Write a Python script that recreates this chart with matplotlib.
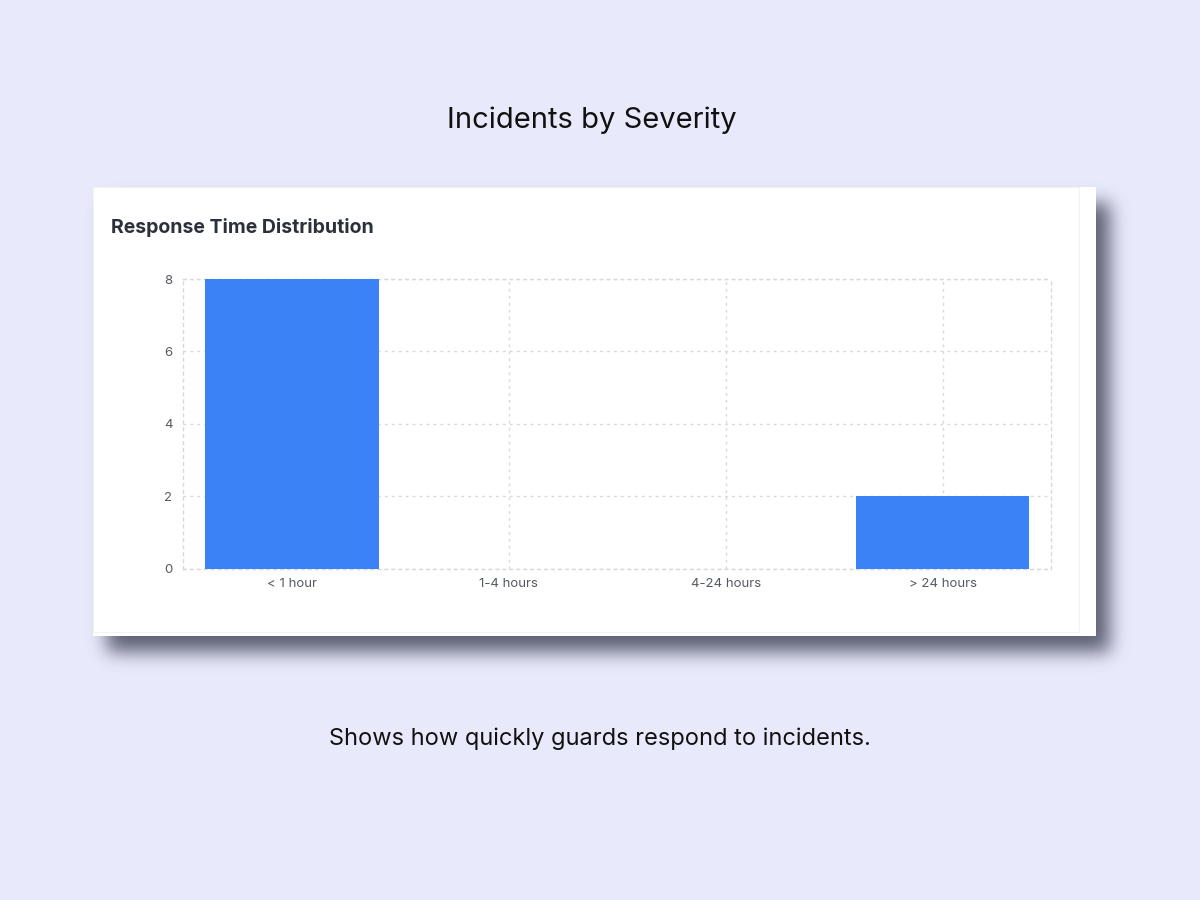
import numpy as np
import matplotlib.pyplot as plt
from matplotlib.patches import Rectangle

categories = ["< 1 hour", "1-4 hours", "4-24 hours", "> 24 hours"]
counts = [8, 0, 0, 2]
y_ticks = [0, 2, 4, 6, 8]

page_bg = "#e8eafc"
bar_color = "#3b82f6"
grid_color = "#d9d9dd"

plt.rcParams["font.family"] = ["Inter", "DejaVu Sans"]

W, H = 1200, 900
fig = plt.figure(figsize=(12, 9), dpi=100)
fig.patch.set_facecolor(page_bg)

# card box in pixels (left, top, right, bottom), top-down coordinates
cl, ct, cr, cb = 93, 187, 1096, 636


def blur_1d(img, sigma, axis):
    r = int(3 * sigma)
    k = np.exp(-0.5 * (np.arange(-r, r + 1) / sigma) ** 2)
    k /= k.sum()
    return np.apply_along_axis(lambda v: np.convolve(v, k, mode="same"), axis, img)


# soft drop shadow under the card
mask = np.zeros((H, W))
mask[ct + 16:cb + 16, cl + 14:cr + 14] = 1.0
mask = blur_1d(blur_1d(mask, 9, 0), 9, 1)
shadow = np.zeros((H, W, 4))
shadow[..., :3] = np.array([0x3c, 0x3f, 0x52]) / 255
shadow[..., 3] = mask * 0.8
fig.figimage(shadow, xo=0, yo=0, origin="upper", zorder=0)

# the white card
fig.patches.append(Rectangle((cl / W, 1 - cb / H), (cr - cl) / W, (cb - ct) / H,
                             transform=fig.transFigure, facecolor="white",
                             edgecolor="none", zorder=1))
fig.patches.append(Rectangle((cl / W, 1 - (cb - 4) / H), (cr - cl - 17) / W, (cb - ct - 4) / H,
                             transform=fig.transFigure, facecolor="none",
                             edgecolor="#f2f2f4", linewidth=0.8, zorder=1))

fig.text(0.493, 0.866, "Incidents by Severity", ha="center", va="center",
         fontsize=21, color="#111111")
fig.text(0.5, 0.179, "Shows how quickly guards respond to incidents.", ha="center",
         va="center", fontsize=17, color="#111111")
fig.text(0.0925, 0.747, "Response Time Distribution", ha="left", va="center",
         fontsize=14, fontweight="bold", color="#2b303b")

ax = fig.add_axes([0.1529, 0.3678, 0.7229, 0.3222])
ax.set_facecolor("white")
ax.set_zorder(2)
x = range(len(categories))
ax.bar(x, counts, width=0.8, color=bar_color, zorder=3)
ax.set_xlim(-0.5, len(categories) - 0.5)
ax.set_ylim(0, 8)
ax.set_yticks(y_ticks)
ax.set_xticks(list(x))
ax.set_xticklabels(categories)
ax.tick_params(length=0, labelsize=9.5, labelcolor="#555a63")
ax.tick_params(axis="y", pad=8)
ax.tick_params(axis="x", pad=6.5)
ax.grid(True, color=grid_color, linestyle=(0, (2, 3)), linewidth=1, zorder=0)
for spine in ax.spines.values():
    spine.set_color(grid_color)
    spine.set_linestyle((0, (2, 3)))
    spine.set_linewidth(1)

fig.savefig("out.png", dpi=100, facecolor=page_bg)
